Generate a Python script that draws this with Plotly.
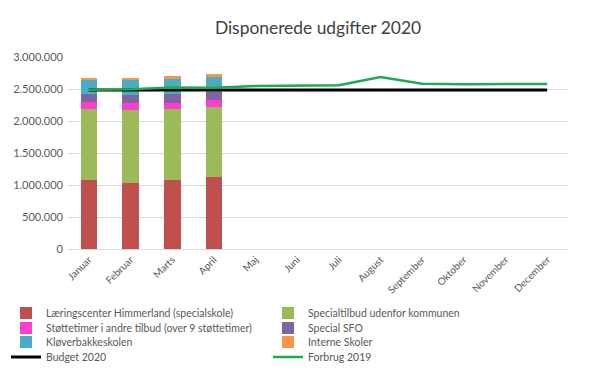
import plotly.graph_objects as go

months = ["Januar", "Februar", "Marts", "April", "Maj", "Juni", "Juli",
          "August", "September", "Oktober", "November", "December"]
bar_months = months[:4]

laeringscenter = [1073000, 1036000, 1073000, 1120000]
specialtilbud = [1120000, 1141000, 1109000, 1104000]
stoettetimer = [99000, 99000, 104000, 109000]
special_sfo = [135000, 130000, 131000, 125000]
kloeverbakke = [224000, 240000, 239000, 230000]
interne = [26000, 31000, 42000, 46000]

budget_2020 = [2484000] * 12
forbrug_2019 = [2490000, 2495000, 2525000, 2520000, 2545000, 2556000,
                2558000, 2688000, 2583000, 2575000, 2575000, 2580000]

y_ticks = [0, 500000, 1000000, 1500000, 2000000, 2500000, 3000000]
y_labels = ["0", "500.000", "1.000.000", "1.500.000", "2.000.000", "2.500.000", "3.000.000"]

FONT = "Lato"
TXT = "#595959"

fig = go.Figure()
bars = [
    ("Læringscenter Himmerland (specialskole)", laeringscenter, "#C0504D", "legend"),
    ("Specialtilbud udenfor kommunen", specialtilbud, "#9BBB59", "legend"),
    ("Støttetimer i andre tilbud (over 9 støttetimer)", stoettetimer, "#FF3DCE", "legend2"),
    ("Special SFO", special_sfo, "#8064A2", "legend2"),
    ("Kløverbakkeskolen", kloeverbakke, "#4BACC6", "legend3"),
    ("Interne Skoler", interne, "#F79646", "legend3"),
]
for name, vals, col, lg in bars:
    fig.add_trace(go.Bar(x=bar_months, y=vals, name=name, marker_color=col,
                         marker_line_width=0, legend=lg))
fig.add_trace(go.Scatter(x=months, y=budget_2020, name="Budget 2020", mode="lines",
                         line=dict(color="#000000", width=3), legend="legend4"))
fig.add_trace(go.Scatter(x=months, y=forbrug_2019, name="Forbrug 2019", mode="lines",
                         line=dict(color="#1DAA50", width=2.5), legend="legend4"))

plot_h = 192.0
def leg(yfig):
    return dict(orientation="h", x=-0.124, xanchor="left",
                y=(241 - yfig) / plot_h, yanchor="middle",
                traceorder="normal", entrywidth=217,
                font=dict(size=10.5, color=TXT, family=FONT),
                itemwidth=30, bgcolor="rgba(0,0,0,0)")

fig.update_layout(
    width=583, height=363,
    barmode="stack", bargap=0.6,
    paper_bgcolor="white", plot_bgcolor="white",
    font=dict(family=FONT, color=TXT, size=11),
    title=dict(text="Disponerede udgifter 2020", x=(318 - 8) / 583, xanchor="center",
               y=1 - 20 / 363, yanchor="middle", font=dict(size=17.4, color="#404040")),
    margin=dict(l=60, r=23, t=49, b=122, autoexpand=False),
    xaxis=dict(categoryorder="array", categoryarray=months, range=[-0.5, 11.5],
               tickangle=-45, showline=True, linecolor="#d9d9d9", linewidth=1,
               ticks="", tickfont=dict(size=10, color=TXT)),
    yaxis=dict(range=[0, 3000000], tickvals=y_ticks, ticktext=y_labels,
               showgrid=True, gridcolor="#d9d9d9", zeroline=False,
               ticklabelstandoff=4, tickfont=dict(size=11, color=TXT)),
    legend=leg(305),
    legend2=leg(320),
    legend3=leg(334),
    legend4=leg(349),
)

fig.write_html("out.html")
